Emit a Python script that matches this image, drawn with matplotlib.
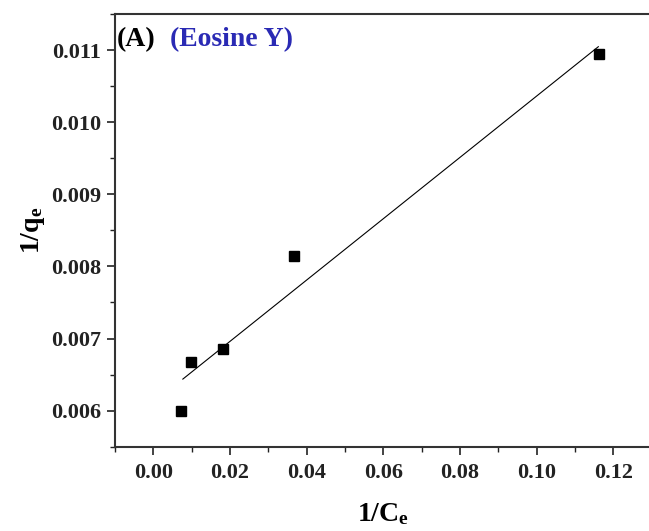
import matplotlib
matplotlib.use("Agg")
import matplotlib.pyplot as plt
from matplotlib.ticker import MultipleLocator
import numpy as np

# Langmuir linearisation: 1/qe against 1/Ce
inv_ce = [0.0073, 0.0098, 0.0183, 0.0368, 0.1164]
inv_qe = [0.00599, 0.00668, 0.00686, 0.00814, 0.01094]

# fitted line parameters
fit_slope = 0.04252
fit_intercept = 0.00611

plt.rcParams["font.family"] = ["Liberation Serif", "DejaVu Serif"]
plt.rcParams["font.weight"] = "bold"
plt.rcParams["mathtext.fontset"] = "custom"
plt.rcParams["mathtext.rm"] = "Liberation Serif"
plt.rcParams["mathtext.bf"] = "Liberation Serif:bold"
plt.rcParams["mathtext.it"] = "Liberation Serif:italic:bold"

fig = plt.figure(figsize=(6.49, 5.31), dpi=100)
ax = fig.add_axes([0.1772, 0.1588, 0.8268, 0.8148])

ax.plot(inv_ce, inv_qe, "s", color="black", markersize=6.5, zorder=3)

x_fit = np.array([min(inv_ce) + 0.0004, max(inv_ce) - 0.0003])
ax.plot(x_fit, fit_slope * x_fit + fit_intercept, color="black", lw=0.8)

ax.set_xlim(-0.01, 0.13)
ax.set_ylim(0.0055, 0.0115)
ax.xaxis.set_major_locator(MultipleLocator(0.02))
ax.xaxis.set_minor_locator(MultipleLocator(0.01))
ax.yaxis.set_major_locator(MultipleLocator(0.001))
ax.yaxis.set_minor_locator(MultipleLocator(0.0005))
ax.xaxis.set_major_formatter(plt.FormatStrFormatter("%.2f"))
ax.yaxis.set_major_formatter(plt.FormatStrFormatter("%.3f"))

ax.tick_params(which="major", direction="out", length=6, width=1.2,
               labelsize=16, colors="#222222")
ax.tick_params(axis="x", which="major", pad=6)
ax.tick_params(axis="y", which="major", pad=4)
ax.tick_params(which="minor", direction="out", length=3.5, width=1.0,
               colors="#222222")
ax.tick_params(top=False, right=False)
for lab in ax.get_xticklabels() + ax.get_yticklabels():
    lab.set_fontweight("bold")

for side in ["left", "bottom", "top", "right"]:
    ax.spines[side].set_linewidth(1.5)
    ax.spines[side].set_color("#333333")

ax.set_xlabel(r"$\mathbf{1/C}_\mathbf{e}$", fontsize=20, labelpad=13)
ax.set_ylabel(r"$\mathbf{1/q}_\mathbf{e}$", fontsize=20, labelpad=3)

ax.text(0.003, 0.97, "(A)", transform=ax.transAxes, fontsize=20,
        fontweight="bold", color="black", va="top", ha="left")
ax.text(0.103, 0.97, "(Eosine Y)", transform=ax.transAxes, fontsize=20,
        fontweight="bold", color="#2a2ab4", va="top", ha="left")

fig.savefig("out.png", dpi=100, facecolor="white")
